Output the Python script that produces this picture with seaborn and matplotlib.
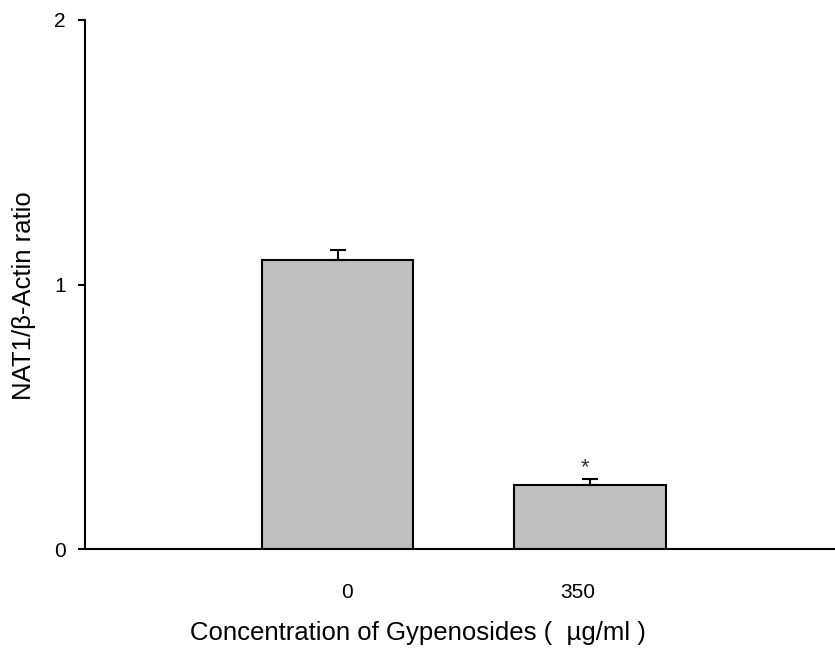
import pandas as pd
import seaborn as sns
import matplotlib.pyplot as plt

# Values
concentrations = ["0", "350"]
ratio_mean = [1.094, 0.243]
ratio_err = [0.038, 0.022]
significance = ["", "*"]

df = pd.DataFrame({"conc": concentrations, "ratio": ratio_mean})

sns.set_style("white")
plt.rcParams["font.family"] = ["Liberation Sans", "DejaVu Sans"]
plt.rcParams["text.color"] = "black"
plt.rcParams["axes.labelcolor"] = "black"
plt.rcParams["xtick.color"] = "black"
plt.rcParams["ytick.color"] = "black"

fig = plt.figure(figsize=(8.35, 6.53), dpi=100)
ax = fig.add_axes([0.1018, 0.1588, 0.8982, 0.8106])

sns.barplot(data=df, x="conc", y="ratio", order=concentrations, color="#c0c0c0",
            edgecolor="black", linewidth=1.5, width=0.6, errorbar=None,
            saturation=1, ax=ax)

# upper error bars only
ax.errorbar(range(len(concentrations)), ratio_mean,
            yerr=[[0] * len(ratio_err), ratio_err], fmt="none",
            ecolor="black", elinewidth=1.5, capsize=6, capthick=1.5)

for i, (m, e, s) in enumerate(zip(ratio_mean, ratio_err, significance)):
    if s:
        ax.text(i - 0.018, m + e + 0.005, s, ha="center", va="bottom",
                fontsize=16, color="#333333")

ax.set_xlim(-1.0, 1.97)
ax.set_ylim(0, 2)
ax.set_yticks([0, 1, 2])
ax.set_yticklabels(["0", "1", "2"])
# tick labels sit slightly off the bar centres in the original
ax.set_xticks([0.036, 0.95])
ax.set_xticklabels(concentrations)

ax.tick_params(axis="y", direction="out", length=5, width=1.5, pad=9,
               labelsize=15, left=True)
ax.tick_params(axis="x", length=0, pad=24, labelsize=15)

sns.despine(ax=ax)
for side in ["left", "bottom"]:
    ax.spines[side].set_linewidth(1.5)
    ax.spines[side].set_color("black")

xl = ax.set_xlabel("Concentration of Gypenosides (  µg/ml )", fontsize=18.5)
yl = ax.set_ylabel("NAT1/β-Actin ratio", fontsize=18.5)
xl.set_va("center")
yl.set_va("center")
ax.xaxis.set_label_coords(0.444, -0.158)
ax.yaxis.set_label_coords(-0.082, 0.48)

fig.savefig("out.png", dpi=100)
